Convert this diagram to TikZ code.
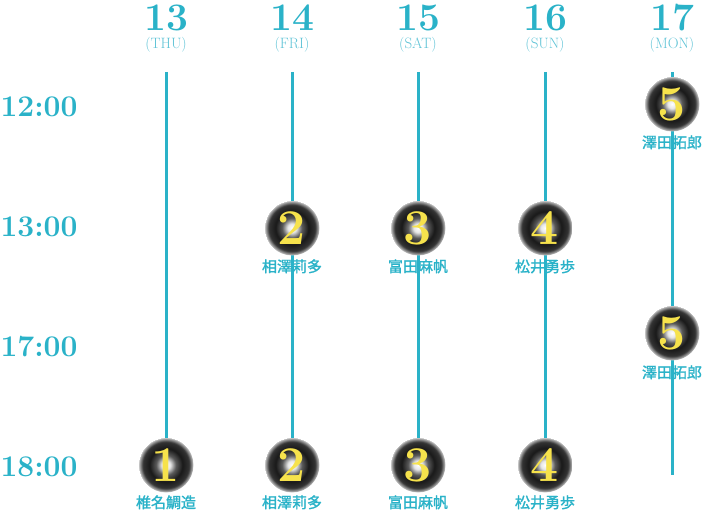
\documentclass[tikz,border=0pt]{standalone}
\usepackage{fontspec}
\newfontfamily\jpfont[FakeBold=1.5]{Noto Sans CJK JP}
\definecolor{lineblue}{HTML}{2AB2C8}
\definecolor{dayblue}{HTML}{5FC3D6}
\definecolor{numgold}{HTML}{F6E24C}
\pgfdeclareradialshading{burst}{\pgfpoint{0bp}{0bp}}{color(0bp)=(white); color(4bp)=(white!80!gray); color(9bp)=(gray!70!black); color(15bp)=(black!90); color(21bp)=(black!80); color(24bp)=(gray!70); color(25bp)=(gray!30)}
\begin{document}
\begin{tikzpicture}[x=1pt,y=-1pt]
    \tikzset{day/.style = {text=lineblue, inner sep=0pt, anchor=base, font=\fontsize{39}{39}\selectfont\bfseries}}
    \tikzset{wday/.style = {text=dayblue, inner sep=0pt, anchor=base, font=\fontsize{15}{15}\selectfont}}
    \tikzset{hour/.style = {text=lineblue, inner sep=0pt, anchor=base, font=\fontsize{30}{30}\selectfont\bfseries}}
    \tikzset{badge/.style = {circle, minimum size=55pt, inner sep=0pt, shading=burst, text=numgold, font=\fontsize{50}{50}\selectfont\bfseries}}
    \tikzset{who/.style = {text=lineblue, inner sep=0pt, anchor=base, font=\jpfont\fontsize{15}{15}\selectfont}}
    \tikzset{rail/.style = {draw=lineblue, line width=3pt}}

    \useasboundingbox (0,0) rectangle (705,513);

    % days
    \node[day] (d13) at (166,31) {13};
    \node[day] (d14) at (292,31) {14};
    \node[day] (d15) at (418,31) {15};
    \node[day] (d16) at (545,31) {16};
    \node[day] (d17) at (672,31) {17};
    \node[wday] (w13) at (166,49) {(THU)};
    \node[wday] (w14) at (292,49) {(FRI)};
    \node[wday] (w15) at (418,49) {(SAT)};
    \node[wday] (w16) at (545,49) {(SUN)};
    \node[wday] (w17) at (672,49) {(MON)};

    % hours
    \node[hour] (h12) at (39,117) {12:00};
    \node[hour] (h13) at (39,237) {13:00};
    \node[hour] (h17) at (39,356) {17:00};
    \node[hour] (h18) at (39,476) {18:00};

    % rails
    \coordinate (top13) at (166,72);
    \coordinate (top14) at (292,72);
    \coordinate (top15) at (418,72);
    \coordinate (top16) at (545,72);
    \coordinate (top17) at (672,72);
    \coordinate (end17) at (672,475);

    \coordinate (c1) at (166,465);
    \coordinate (c2a) at (292,228);
    \coordinate (c2b) at (292,465);
    \coordinate (c3a) at (418,228);
    \coordinate (c3b) at (418,465);
    \coordinate (c4a) at (545,228);
    \coordinate (c4b) at (545,465);
    \coordinate (c5a) at (672,104);
    \coordinate (c5b) at (672,333);

    \draw[rail] (top13) -- (c1);
    \draw[rail] (top14) -- (c2a) -- (c2b);
    \draw[rail] (top15) -- (c3a) -- (c3b);
    \draw[rail] (top16) -- (c4a) -- (c4b);
    \draw[rail] (top17) -- (c5a) -- (c5b) -- (end17);

    % badges
    \node[badge] (b1) at (c1) {1};
    \node[badge] (b2a) at (c2a) {2};
    \node[badge] (b2b) at (c2b) {2};
    \node[badge] (b3a) at (c3a) {3};
    \node[badge] (b3b) at (c3b) {3};
    \node[badge] (b4a) at (c4a) {4};
    \node[badge] (b4b) at (c4b) {4};
    \node[badge] (b5a) at (c5a) {5};
    \node[badge] (b5b) at (c5b) {5};

    % names
    \node[who] (n1) at (166,508) {椎名鯛造};
    \node[who] (n2a) at (292,272) {相澤莉多};
    \node[who] (n2b) at (292,508) {相澤莉多};
    \node[who] (n3a) at (418,272) {富田麻帆};
    \node[who] (n3b) at (418,508) {富田麻帆};
    \node[who] (n4a) at (545,272) {松井勇歩};
    \node[who] (n4b) at (545,508) {松井勇歩};
    \node[who] (n5a) at (672,148) {澤田拓郎};
    \node[who] (n5b) at (672,378) {澤田拓郎};

\end{tikzpicture}
\end{document}
